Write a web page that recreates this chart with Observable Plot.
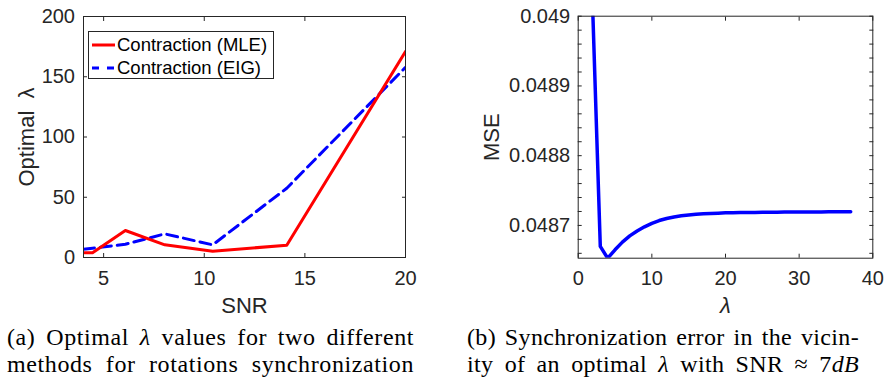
<!DOCTYPE html>
<html>
<head>
<meta charset="utf-8">
<script src="https://cdn.jsdelivr.net/npm/d3@7"></script>
<script src="https://cdn.jsdelivr.net/npm/@observablehq/plot@0.6"></script>
<style>
  html, body { margin: 0; padding: 0; background: #fff; }
  body { width: 884px; height: 377px; overflow: hidden; position: relative; font-family: "Liberation Sans", Arial, Helvetica, sans-serif; }
  #chartA, #chartB { position: absolute; top: 0; }
  #chartA { left: 0; }
  #chartB { left: 442px; }
  #legend { position: absolute; left: 88px; top: 31px; width: 186px; height: 48px; box-sizing: border-box; border: 1px solid #262626; background: #fff; font-size: 18.5px; color: #000; }
  #legend .row { position: absolute; left: 0; height: 23.7px; line-height: 23.7px; white-space: nowrap; }
  #legend svg { position: absolute; left: 3px; top: 0; }
  #legend span { position: absolute; left: 28px; top: 0; }
  .cap { position: absolute; top: 324.4px; font-family: "Liberation Serif", "Times New Roman", serif; font-size: 24px; line-height: 27px; color: #000; }
  .cap div { text-align: justify; text-align-last: justify; }
</style>
</head>
<body>
<div id="chartA"></div>
<div id="chartB"></div>
<div id="legend"></div>
<div class="cap" style="left:7px;width:407px;letter-spacing:0.6px;">
  <div>(a) Optimal <i>λ</i> values for two different</div>
  <div>methods for rotations synchronization</div>
</div>
<div class="cap" style="left:467px;width:392px;letter-spacing:0.35px;">
  <div>(b) Synchronization error in the vicin-</div>
  <div>ity of an optimal <i>λ</i> with SNR ≈ 7<i>dB</i></div>
</div>
<script>
// ---------- Data: panel (a) ----------
const snr = [4, 4.45, 6.08, 8.04, 10.42, 14.1, 20];
const mleLambda = [3.9, 3.9, 22.4, 10.5, 5.2, 10.2, 171];
const eigLambda = [6.9, 7.7, 11, 19.6, 10.5, 57.5, 157.8];
const seriesNames = ["Contraction (MLE)", "Contraction (EIG)"];
const snrTicks = [5, 10, 15, 20];
const optLambdaTicks = [0, 50, 100, 150, 200];

// ---------- Data: panel (b) ----------
const lambdaVals = [2, 3, 4, 5, 6, 7, 8, 9, 10, 11, 12, 13, 14, 15, 16, 17, 18, 19, 20,
  21, 22, 23, 24, 25, 26, 27, 28, 29, 30, 31, 32, 33, 34, 35, 36, 37];
const mseVals = [0.04900, 0.04867, 0.048653, 0.048665, 0.048676, 0.048685, 0.048692, 0.048698,
  0.048703, 0.048707, 0.048710, 0.0487122, 0.0487138, 0.048715, 0.048716, 0.0487166, 0.0487172,
  0.0487176, 0.048718, 0.0487182, 0.0487184, 0.0487186, 0.0487187, 0.0487188, 0.0487189,
  0.048719, 0.0487191, 0.0487192, 0.0487192, 0.0487193, 0.0487194, 0.0487194, 0.0487195,
  0.0487195, 0.0487196, 0.0487196];
const lambdaTicks = [0, 10, 20, 30, 40];
const mseTicks = [0.0487, 0.0488, 0.0489, 0.049];
const mseMinorTicks = [0.04866, 0.04868, 0.0487, 0.04872, 0.04874, 0.04876, 0.04878, 0.0488,
  0.04882, 0.04884, 0.04886, 0.04888, 0.0489, 0.04892, 0.04894, 0.04896, 0.04898, 0.049];

const colors = ["#ff0000", "#0000ff"];
const axisColor = "#262626";
const font = "Liberation Sans, Arial, Helvetica, sans-serif";
const TL = 4; // inward tick length
const blank = () => "";

const tableA = snr.map((s, i) => ({snr: s, mle: mleLambda[i], eig: eigLambda[i]}));
const tableB = lambdaVals.map((l, i) => ({lambda: l, mse: mseVals[i]}));

// inward tick helpers
function inwardX(ticks) {
  return [
    Plot.axisX(ticks, {anchor: "bottom", tickSize: TL, dy: -TL, tickFormat: blank, label: null, stroke: axisColor}),
    Plot.axisX(ticks, {anchor: "top", tickSize: TL, dy: TL, tickFormat: blank, label: null, stroke: axisColor})
  ];
}
function inwardY(ticks) {
  return [
    Plot.axisY(ticks, {anchor: "left", tickSize: TL, dx: TL, tickFormat: blank, label: null, stroke: axisColor}),
    Plot.axisY(ticks, {anchor: "right", tickSize: TL, dx: -TL, tickFormat: blank, label: null, stroke: axisColor})
  ];
}

const plotA = Plot.plot({
  width: 440, height: 320,
  marginTop: 16, marginLeft: 83, marginRight: 35, marginBottom: 63,
  style: {fontFamily: font, background: "transparent", color: axisColor},
  x: {domain: [4, 20]},
  y: {domain: [0, 200]},
  marks: [
    Plot.line(tableA, {x: "snr", y: "eig", stroke: colors[1], strokeWidth: 3, strokeDasharray: "11,6", clip: true}),
    Plot.line(tableA, {x: "snr", y: "mle", stroke: colors[0], strokeWidth: 3, clip: true}),
    Plot.frame({stroke: axisColor, strokeWidth: 1}),
    ...inwardX(snrTicks),
    ...inwardY(optLambdaTicks),
    Plot.axisX(snrTicks, {anchor: "bottom", tickSize: 0, tickPadding: 13, fontSize: 20, fill: axisColor, label: null}),
    Plot.axisY(optLambdaTicks, {anchor: "left", tickSize: 0, tickPadding: 8.5, fontSize: 20, fill: axisColor, label: null}),
    Plot.axisX([], {anchor: "bottom", tickSize: 0, tickFormat: blank, fontSize: 22, fill: axisColor, label: "SNR", labelAnchor: "center", labelArrow: "none", labelOffset: 55}),
    Plot.axisY([], {anchor: "left", tickSize: 0, tickFormat: blank, fontSize: 22, fill: axisColor, label: "Optimal  λ", labelAnchor: "center", labelArrow: "none", labelOffset: 65})
  ]
});
document.getElementById("chartA").appendChild(plotA);

const plotB = Plot.plot({
  width: 442, height: 320,
  marginTop: 15.7, marginLeft: 135.7, marginRight: 11.7, marginBottom: 62.3,
  style: {fontFamily: font, background: "transparent", color: axisColor},
  x: {domain: [0, 40]},
  y: {domain: [0.048653, 0.049]},
  marks: [
    Plot.line(tableB, {x: "lambda", y: "mse", stroke: colors[1], strokeWidth: 3.5, clip: true}),
    Plot.frame({stroke: axisColor, strokeWidth: 1}),
    ...inwardX(lambdaTicks),
    ...inwardY(mseMinorTicks),
    Plot.axisX(lambdaTicks, {anchor: "bottom", tickSize: 0, tickPadding: 13, fontSize: 20, fill: axisColor, label: null}),
    Plot.axisY(mseTicks, {anchor: "left", tickSize: 0, tickPadding: 8, fontSize: 20, fill: axisColor, label: null, tickFormat: d => String(d)}),
    Plot.axisX([], {anchor: "bottom", tickSize: 0, tickFormat: blank, fontSize: 22, fontStyle: "italic", fill: axisColor, label: "λ", labelAnchor: "center", labelArrow: "none", labelOffset: 55}),
    Plot.axisY([], {anchor: "left", tickSize: 0, tickFormat: blank, fontSize: 22, fill: axisColor, label: "MSE", labelAnchor: "center", labelArrow: "none", labelOffset: 95})
  ]
});
document.getElementById("chartB").appendChild(plotB);

// legend for panel (a)
const legend = document.getElementById("legend");
seriesNames.forEach((name, i) => {
  const row = document.createElement("div");
  row.className = "row";
  row.style.top = (0.5 + i * 23.7) + "px";
  row.style.width = "184px";
  const dash = i === 1 ? ' stroke-dasharray="7,8"' : "";
  row.innerHTML = `<svg width="23" height="23.7"><line x1="0" x2="23" y1="12" y2="12" stroke="${colors[i]}" stroke-width="3"${dash}/></svg><span>${name}</span>`;
  legend.appendChild(row);
});
</script>
</body>
</html>
